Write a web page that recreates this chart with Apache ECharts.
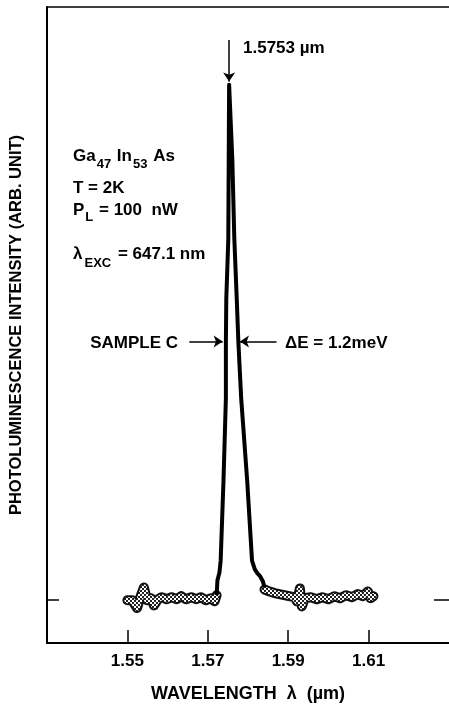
<!DOCTYPE html>
<html>
<head>
<meta charset="utf-8">
<script src="https://cdn.jsdelivr.net/npm/echarts@6/dist/echarts.min.js"></script>
<style>
html, body { margin: 0; padding: 0; background: #fff; }
#chart { width: 449px; height: 708px; }
</style>
</head>
<body>
<div id="chart"></div>
<script>
// wavelength (um) vs PL intensity (arb., peak = 100)
const xTicks = [1.55, 1.57, 1.59, 1.61]
const yTicks = [0]

const leftBaseline = [
  [1.5500, -0.2], [1.5512, -0.2], [1.5524, -1.7], [1.5532, 0.4], [1.5541, 2.3],
  [1.5549, -0.2], [1.5559, 0.2], [1.5566, -1.2], [1.5576, 0.0], [1.5585, 0.4],
  [1.5598, 0.0], [1.5610, 0.4], [1.5622, 0.0], [1.5634, 0.6], [1.5646, 0.0],
  [1.5659, 0.4], [1.5671, 0.0], [1.5683, 0.4], [1.5695, -0.2], [1.5707, 0.2],
  [1.5717, -0.4], [1.5722, 0.8]
]

const peak = [
  [1.5722, 0.8], [1.5724, 3.7], [1.5729, 5.2], [1.5732, 7.5], [1.5739, 23.0],
  [1.5745, 39.1], [1.5745, 50.1], [1.5746, 58.4], [1.5751, 70.0], [1.5753, 100],
  [1.5761, 85.5], [1.5766, 70.0], [1.5772, 58.4], [1.5776, 50.1], [1.5783, 39.1],
  [1.5798, 23.0], [1.5810, 7.5], [1.5817, 5.8], [1.5824, 5.0], [1.5829, 4.6],
  [1.5837, 3.5], [1.5841, 2.3]
]

const rightBaseline = [
  [1.5841, 1.9], [1.5854, 1.5], [1.5866, 1.2], [1.5878, 1.0], [1.5890, 0.8],
  [1.5902, 0.6], [1.5915, 0.4], [1.5922, -0.4], [1.5929, 2.1], [1.5934, -1.4],
  [1.5941, 0.2], [1.5956, 0.4], [1.5971, 0.0], [1.5985, 0.4], [1.6000, 0.0],
  [1.6015, 0.6], [1.6029, 0.2], [1.6044, 0.8], [1.6059, 0.4], [1.6073, 1.0],
  [1.6085, 0.6], [1.6098, 1.5], [1.6105, 0.2], [1.6112, 0.6]
]

const peakWavelength = 1.5753
const halfMax = 50.1
const fwhmLeft = 1.5737
const fwhmRight = 1.5780

const FONT = "'Liberation Sans', Arial, sans-serif"

// checker pattern for the noisy part of the trace
function hatchPattern() {
  const c = document.createElement('canvas')
  c.width = 4; c.height = 4
  const g = c.getContext('2d')
  g.fillStyle = '#222'
  g.fillRect(0, 0, 4, 4)
  g.fillStyle = '#fff'
  g.fillRect(0, 0, 2, 2)
  g.fillRect(2, 2, 2, 2)
  return { image: c, repeat: 'repeat' }
}
const hatch = hatchPattern()

function noiseSeries(data, width, color) {
  return {
    type: 'line', data: data, showSymbol: false, silent: true,
    lineStyle: { width: width, color: color, join: 'round', cap: 'round' },
    itemStyle: { color: '#000' }
  }
}

const chart = echarts.init(document.getElementById('chart'))

chart.setOption({
  animation: false,
  grid: { left: 43, right: -4, top: 7, bottom: 62 },
  xAxis: [{
    type: 'value', min: 1.53, max: 1.63,
    name: 'WAVELENGTH  λ  (µm)', nameLocation: 'middle', nameGap: 42,
    nameTextStyle: { fontFamily: FONT, fontWeight: 'bold', fontSize: 18, color: '#000' },
    axisLine: { onZero: false, lineStyle: { color: '#000', width: 2 } },
    axisTick: { inside: true, length: 13, customValues: xTicks, lineStyle: { color: '#000', width: 1.5 } },
    axisLabel: {
      customValues: xTicks, margin: 10, color: '#000',
      fontFamily: FONT, fontWeight: 'bold', fontSize: 17,
      formatter: v => v.toFixed(2)
    },
    splitLine: { show: false }
  }, {
    type: 'value', min: 1.53, max: 1.63, position: 'top',
    axisLine: { show: true, onZero: false, lineStyle: { color: '#000', width: 1.5 } },
    axisTick: { show: false }, axisLabel: { show: false }, splitLine: { show: false }
  }],
  yAxis: [{
    type: 'value', min: -8.5, max: 115.1,
    name: 'PHOTOLUMINESCENCE INTENSITY (ARB. UNIT)', nameLocation: 'middle', nameGap: 22,
    nameTextStyle: { fontFamily: FONT, fontWeight: 'bold', fontSize: 16.5, color: '#000' },
    axisLine: { show: true, onZero: false, lineStyle: { color: '#000', width: 2 } },
    axisTick: { inside: true, length: 12, customValues: yTicks, lineStyle: { color: '#000', width: 1.5 } },
    axisLabel: { show: false },
    splitLine: { show: false }
  }, {
    type: 'value', min: -8.5, max: 115.1, position: 'right',
    axisLine: { show: false, onZero: false },
    axisTick: { show: true, inside: true, length: 15, customValues: yTicks, lineStyle: { color: '#000', width: 1.5 } },
    axisLabel: { show: false },
    splitLine: { show: false }
  }],
  series: [
    noiseSeries(leftBaseline, 10, '#111'),
    noiseSeries(leftBaseline, 6, hatch),
    noiseSeries(rightBaseline, 10, '#111'),
    noiseSeries(rightBaseline, 6, hatch),
    {
      type: 'line', data: peak, showSymbol: false, silent: true,
      lineStyle: { width: 4, color: '#000', join: 'round' },
      markLine: {
        silent: true, symbol: ['none', 'arrow'], symbolSize: 9,
        label: { show: false },
        lineStyle: { color: '#000', width: 1.5, type: 'solid' },
        data: [
          [{ coord: [peakWavelength, 108.7] }, { coord: [peakWavelength, 100.6] }],
          [{ coord: [1.5654, halfMax] }, { coord: [fwhmLeft, halfMax] }],
          [{ coord: [1.5871, halfMax] }, { coord: [fwhmRight, halfMax] }]
        ]
      }
    }
  ],
  graphic: [
    { type: 'text', x: 243, y: 48, style: { text: '1.5753 µm', font: "bold 17px " + FONT, fill: '#000', textVerticalAlign: 'middle' } },
    {
      type: 'text', x: 73, y: 156,
      style: {
        text: '{a|Ga}{s|47}{a| In}{s|53}{a| As}', fill: '#000', textVerticalAlign: 'middle',
        rich: {
          a: { fontSize: 17, fontWeight: 'bold', fontFamily: FONT },
          s: { fontSize: 13, fontWeight: 'bold', fontFamily: FONT, padding: [16, 1, 0, 1] }
        }
      }
    },
    { type: 'text', x: 73, y: 188, style: { text: 'T = 2K', font: "bold 17px " + FONT, fill: '#000', textVerticalAlign: 'middle' } },
    {
      type: 'text', x: 73, y: 210,
      style: {
        text: '{a|P}{s|L}{a| = 100  nW}', fill: '#000', textVerticalAlign: 'middle',
        rich: {
          a: { fontSize: 17, fontWeight: 'bold', fontFamily: FONT },
          s: { fontSize: 13, fontWeight: 'bold', fontFamily: FONT, padding: [14, 1, 0, 1] }
        }
      }
    },
    {
      type: 'text', x: 73, y: 254,
      style: {
        text: '{a|λ}{s|EXC}{a| = 647.1 nm}', fill: '#000', textVerticalAlign: 'middle',
        rich: {
          a: { fontSize: 17, fontWeight: 'bold', fontFamily: FONT },
          s: { fontSize: 13, fontWeight: 'bold', fontFamily: FONT, padding: [18, 2, 0, 2] }
        }
      }
    },
    { type: 'text', x: 178, y: 343, style: { text: 'SAMPLE C', font: "bold 17px " + FONT, fill: '#000', textAlign: 'right', textVerticalAlign: 'middle' } },
    { type: 'text', x: 285, y: 343, style: { text: 'ΔE = 1.2meV', font: "bold 17px " + FONT, fill: '#000', textVerticalAlign: 'middle' } }
  ]
})
</script>
</body>
</html>
